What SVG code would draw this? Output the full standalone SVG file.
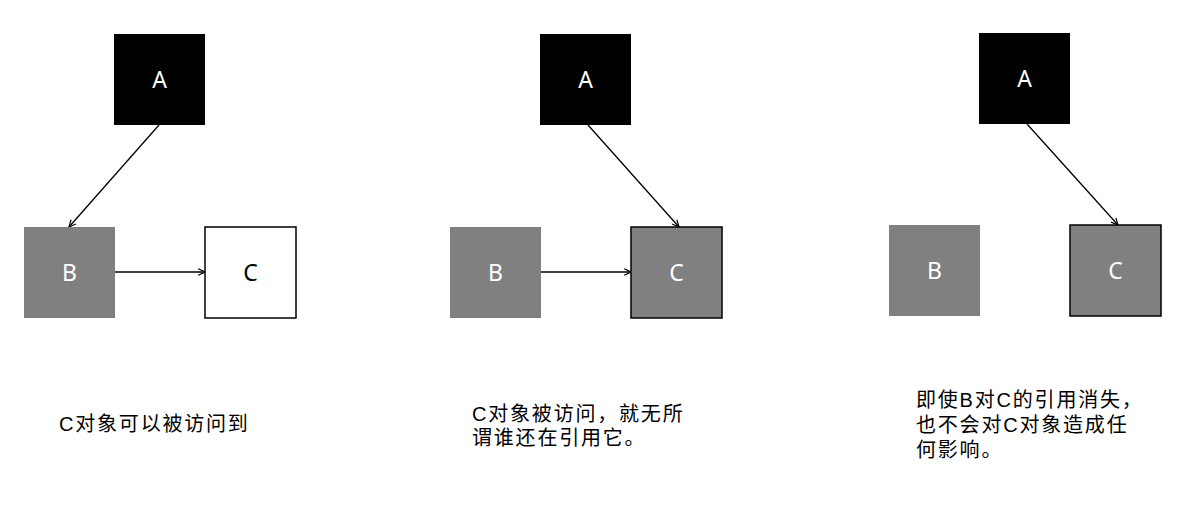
<svg xmlns="http://www.w3.org/2000/svg" width="1185" height="506" viewBox="0 0 1185 506">
<style>
.a{fill:#000}
.g{fill:#808080}
.gs{fill:#808080;stroke:#000;stroke-width:1.5}
.w{fill:#fff;stroke:#000;stroke-width:1.5}
.lbl{font-family:"Noto Sans","Liberation Sans",sans-serif;font-size:23px;text-anchor:middle}
.lw{fill:#fff}
.lb{fill:#000}
.cap{font-family:"Liberation Sans","Noto Sans CJK SC",sans-serif;font-size:20px;letter-spacing:1.8px;fill:#000}
.e{stroke:#000;stroke-width:1.3;fill:none;marker-end:url(#arr)}
</style>
<defs>
<marker id="arr" viewBox="0 0 10 10" refX="9.5" refY="5" markerWidth="8" markerHeight="8" markerUnits="userSpaceOnUse" orient="auto">
<path d="M1,1 L9.5,5 L1,9" fill="none" stroke="#000" stroke-width="1.5"/>
</marker>
</defs>
<g id="connectors">
<line class="e" x1="159" y1="125" x2="69" y2="227"/>
<line class="e" x1="115" y1="272" x2="205" y2="272"/>
<line class="e" x1="588" y1="125" x2="679" y2="227"/>
<line class="e" x1="541" y1="272" x2="631" y2="272"/>
<line class="e" x1="1027" y1="124" x2="1118" y2="225"/>
</g>
<g id="p1-A"><rect class="a" x="114" y="34" width="91" height="91"/><text class="lbl lw" x="159.5" y="88">A</text></g>
<g id="p1-B"><rect class="g" x="24" y="227" width="91" height="91"/><text class="lbl lw" x="69.5" y="281">B</text></g>
<g id="p1-C"><rect class="w" x="205" y="227" width="91" height="91"/><text class="lbl lb" x="250.5" y="281">C</text></g>
<g id="p2-A"><rect class="a" x="540" y="34" width="91" height="91"/><text class="lbl lw" x="585.5" y="88">A</text></g>
<g id="p2-B"><rect class="g" x="450" y="227" width="91" height="91"/><text class="lbl lw" x="495.5" y="281">B</text></g>
<g id="p2-C"><rect class="gs" x="631" y="227" width="91" height="91"/><text class="lbl lw" x="676.5" y="281">C</text></g>
<g id="p3-A"><rect class="a" x="979" y="33" width="91" height="91"/><text class="lbl lw" x="1024.5" y="87">A</text></g>
<g id="p3-B"><rect class="g" x="889" y="225" width="91" height="91"/><text class="lbl lw" x="934.5" y="279">B</text></g>
<g id="p3-C"><rect class="gs" x="1070" y="225" width="91" height="91"/><text class="lbl lw" x="1115.5" y="279">C</text></g>
<g id="captions">
<text class="cap" x="59" y="431">C对象可以被访问到</text>
<text class="cap" x="472" y="421">C对象被访问，就无所</text>
<text class="cap" x="472" y="445">谓谁还在引用它。</text>
<text class="cap" x="916" y="407">即使B对C的引用消失，</text>
<text class="cap" x="916" y="432">也不会对C对象造成任</text>
<text class="cap" x="916" y="457">何影响。</text>
</g>
</svg>
